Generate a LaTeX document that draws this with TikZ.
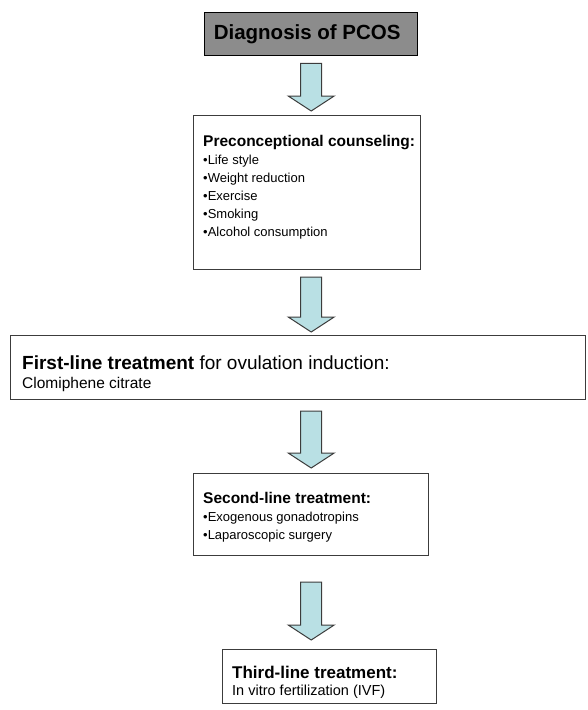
\documentclass[tikz,border=0pt]{standalone}
\usepackage{fontspec}
\setmainfont{Liberation Sans}
\usetikzlibrary{calc,positioning}
\definecolor{boxgray}{RGB}{140,140,140}
\definecolor{arrowfill}{RGB}{185,224,228}
\definecolor{edge}{RGB}{60,60,60}

\tikzset{
  stage/.style={rectangle, draw=edge, line width=1.1pt, inner sep=0pt, anchor=north west},
  stagetext/.style={anchor=base west, inner sep=0pt, align=left},
  blockarrow/.style={draw=edge, line width=1pt, fill=arrowfill, line join=miter},
}

% fat arrow from #1 (top of shaft) to #2 (tip)
\newcommand{\fatarrow}[2]{%
  \draw[blockarrow] let \p1=(#1), \p2=(#2) in
    (\x1-10.5pt,\y1) -- (\x1+10.5pt,\y1) -- (\x1+10.5pt,\y2+15pt) -- (\x1+23pt,\y2+15pt)
    -- (\x1,\y2) -- (\x1-23pt,\y2+15pt) -- (\x1-10.5pt,\y2+15pt) -- cycle;}

\begin{document}
\begin{tikzpicture}[x=1pt,y=-1pt]
  \useasboundingbox (0,0) rectangle (588,710);
  %boxes
  \node[stage, fill=boxgray, draw=black, line width=1.4pt, minimum width=213pt, minimum height=43pt] (diag) at (204,12) {};
  \node[stage, minimum width=227pt, minimum height=154pt] (couns) at (193,115) {};
  \node[stage, minimum width=575pt, minimum height=64pt] (first) at (10,335) {};
  \node[stage, minimum width=235pt, minimum height=82pt] (second) at (193,473) {};
  \node[stage, minimum width=214pt, minimum height=54pt] (third) at (222,649) {};
  %texts (anchored at the baseline of their last line)
  \node[font=\fontsize{20.5}{24}\selectfont\bfseries, inner sep=0pt] (diagtxt) at ([xshift=-4pt]diag.center)
    {Diagnosis of PCOS};
  \node[stagetext, font=\fontsize{13}{18}\selectfont] (counstxt) at (203,236.5)
    {{\fontsize{15.5}{18}\selectfont\bfseries Preconceptional counseling:}\\
     •Life style\\ •Weight reduction\\ •Exercise\\ •Smoking\\ •Alcohol consumption};
  \node[stagetext, font=\fontsize{15.5}{19.5}\selectfont] (firsttxt) at (22,388.5)
    {{\fontsize{19}{19.5}\selectfont\textbf{First-line treatment} for ovulation induction:}\\
     Clomiphene citrate};
  \node[stagetext, font=\fontsize{13}{18}\selectfont] (secondtxt) at (203,539)
    {{\fontsize{15.5}{18}\selectfont\bfseries Second-line treatment:}\\
     •Exogenous gonadotropins\\ •Laparoscopic surgery};
  \node[stagetext, font=\fontsize{14.5}{17}\selectfont] (thirdtxt) at (232,695)
    {{\fontsize{17}{17}\selectfont\bfseries Third-line treatment:}\\
     In vitro fertilization (IVF)};
  %arrows
  \coordinate (a1s) at ([yshift=-7pt]diag.south);
  \coordinate (a1e) at ($(a1s |- couns.north)+(0,-4)$);
  \coordinate (a2s) at ($(a1s |- couns.south)+(0,7)$);
  \coordinate (a2e) at ($(a1s |- first.north)+(0,-3)$);
  \coordinate (a3s) at ($(a1s |- first.south)+(0,11)$);
  \coordinate (a3e) at ($(a1s |- second.north)+(0,-5)$);
  \coordinate (a4s) at ($(a1s |- second.south)+(0,26)$);
  \coordinate (a4e) at ($(a1s |- third.north)+(0,-9)$);
  \fatarrow{a1s}{a1e}
  \fatarrow{a2s}{a2e}
  \fatarrow{a3s}{a3e}
  \fatarrow{a4s}{a4e}
\end{tikzpicture}
\end{document}
